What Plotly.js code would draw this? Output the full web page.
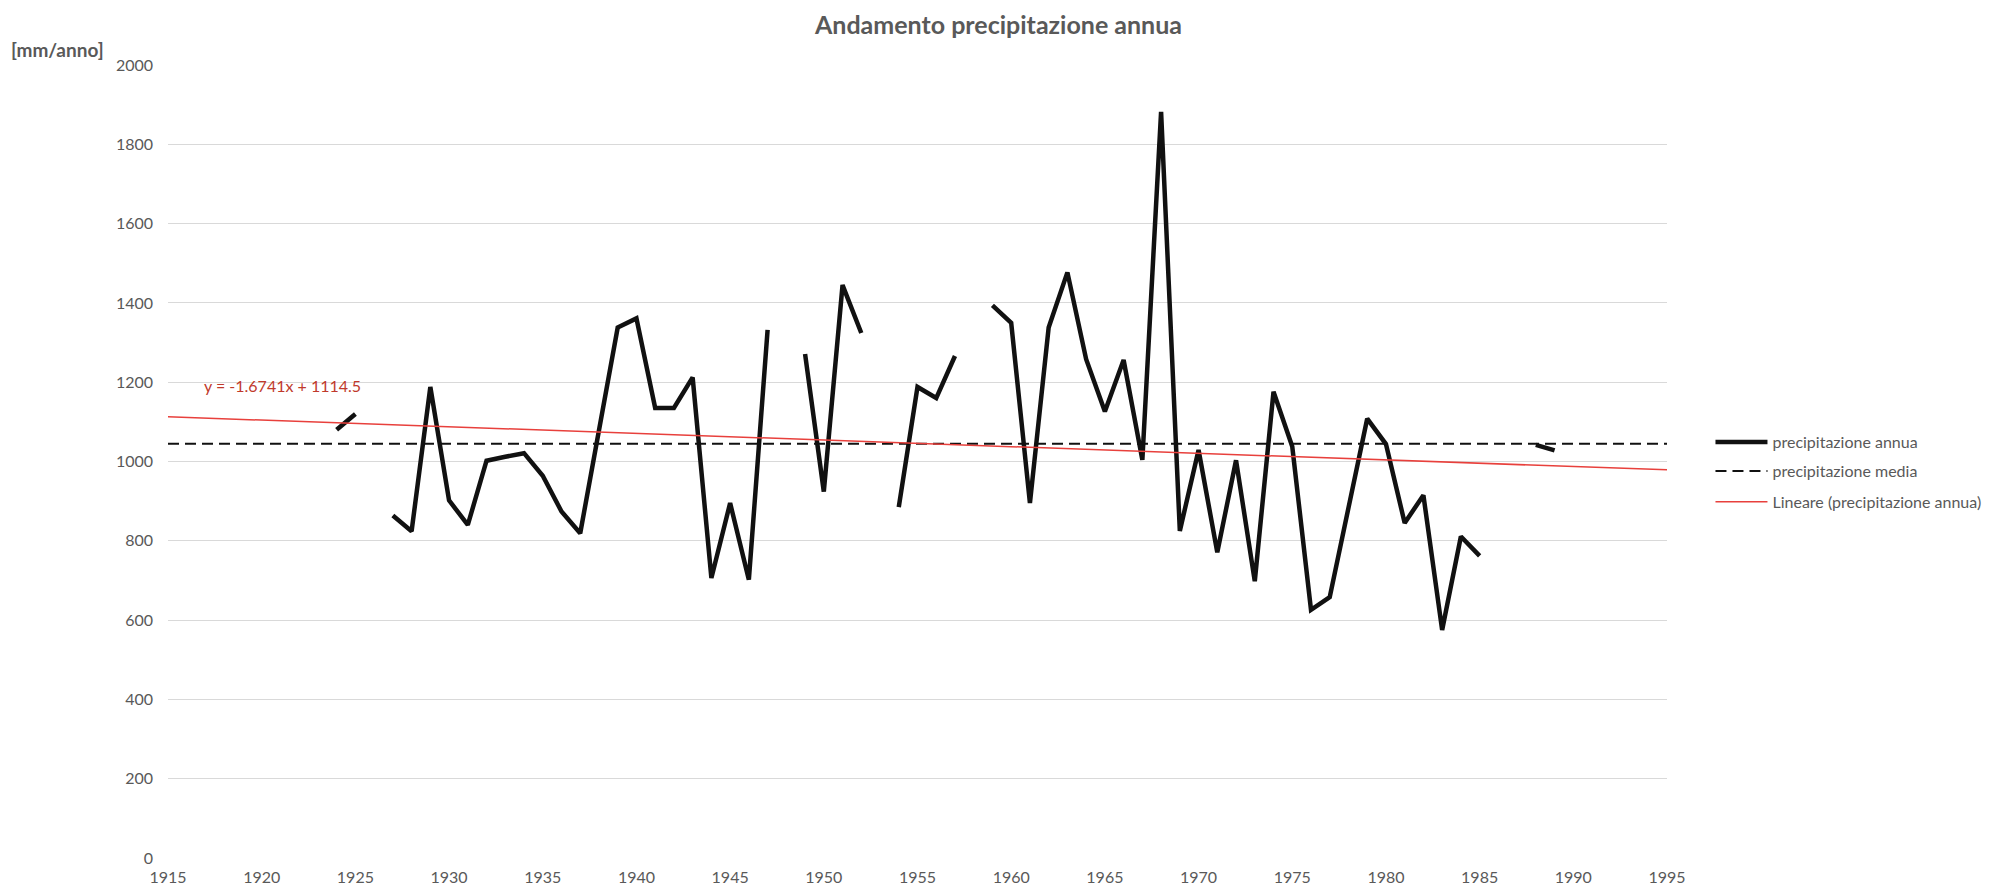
<!DOCTYPE html>
<html>
<head>
<meta charset="utf-8">
<script src="https://cdn.plot.ly/plotly-3.0.1.min.js"></script>
<style>
  html, body { margin: 0; padding: 0; background: #ffffff; }
  #chart { width: 1997px; height: 894px; }
</style>
</head>
<body>
<div id="chart"></div>
<script>
// Years and annual precipitation [mm/anno]; null = missing year (gap in line)
const years = [1924, 1925, 1926, 1927, 1928, 1929, 1930, 1931, 1932, 1933, 1934, 1935, 1936, 1937, 1938, 1939,
  1940, 1941, 1942, 1943, 1944, 1945, 1946, 1947, 1948, 1949, 1950, 1951, 1952, 1953, 1954, 1955, 1956, 1957,
  1958, 1959, 1960, 1961, 1962, 1963, 1964, 1965, 1966, 1967, 1968, 1969, 1970, 1971, 1972, 1973, 1974, 1975,
  1976, 1977, 1978, 1979, 1980, 1981, 1982, 1983, 1984, 1985, 1986, 1987, 1988, 1989];
const precipitazioneAnnua = [1080, 1120, null, 864, 824, 1188, 902, 840, 1002, 1012, 1021, 964, 874, 819, 1075, 1338,
  1361, 1135, 1135, 1212, 706, 895, 702, 1332, null, 1271, 924, 1445, 1324, null, 885, 1188, 1160, 1266,
  null, 1394, 1350, 895, 1338, 1477, 1258, 1126, 1256, 1004, 1882, 825, 1029, 771, 1003, 698, 1176, 1038,
  626, 658, 885, 1108, 1044, 845, 915, 575, 811, 762, null, null, 1042, 1028];

// Mean line (precipitazione media)
const mediaX = [1915, 1995];
const mediaY = [1045, 1045];

// Linear trend line (y = -1.6741x + 1114.5), endpoints read at axis limits
const trendX = [1915, 1995];
const trendY = [1112.8, 978.9];
const trendLabel = 'y = -1.6741x + 1114.5';

const xTicks = [1915, 1920, 1925, 1930, 1935, 1940, 1945, 1950, 1955, 1960, 1965, 1970, 1975, 1980, 1985, 1990, 1995];
const yTicks = [0, 200, 400, 600, 800, 1000, 1200, 1400, 1600, 1800, 2000];

const FONT = 'Lato, "Open Sans", "Liberation Sans", sans-serif';
const GREY = '#595959';

const traces = [
  {
    x: years, y: precipitazioneAnnua, type: 'scatter', mode: 'lines',
    name: 'precipitazione annua', connectgaps: false, legend: 'legend', showlegend: true,
    line: { color: '#111111', width: 4.5 }
  },
  {
    x: mediaX, y: mediaY, type: 'scatter', mode: 'lines',
    name: 'precipitazione media', legend: 'legend2', showlegend: true,
    line: { color: '#111111', width: 2, dash: '11px,6px' }
  },
  {
    x: trendX, y: trendY, type: 'scatter', mode: 'lines',
    name: 'Lineare (precipitazione annua)', legend: 'legend3', showlegend: true,
    line: { color: '#e8403c', width: 1.5 }
  }
];

function legendAt(yPos) {
  return {
    x: 1.029, xanchor: 'left', y: yPos, yanchor: 'middle',
    font: { family: FONT, size: 16, color: GREY },
    bgcolor: 'rgba(0,0,0,0)', itemwidth: 52, visible: true
  };
}

const layout = {
  width: 1997, height: 894,
  showlegend: true,
  paper_bgcolor: '#ffffff', plot_bgcolor: '#ffffff',
  margin: { l: 168, r: 330, t: 65, b: 36, pad: 0, autoexpand: false },
  font: { family: FONT, color: GREY, size: 15 },
  title: {
    text: '<b>Andamento precipitazione annua</b>',
    font: { family: FONT, size: 25, color: GREY },
    x: 0.5, xref: 'container', xanchor: 'center',
    y: 0.972, yref: 'container', yanchor: 'middle'
  },
  xaxis: {
    range: [1915, 1995], tickvals: xTicks, ticktext: xTicks.map(String),
    showgrid: false, zeroline: false, showline: false, ticks: '',
    tickfont: { family: FONT, size: 16, color: GREY }, ticklabelstandoff: 8
  },
  yaxis: {
    range: [0, 2000], tickvals: yTicks, ticktext: yTicks.map(String),
    showgrid: true, gridcolor: '#d9d9d9', gridwidth: 1,
    zeroline: false, showline: false, ticks: '',
    tickfont: { family: FONT, size: 16, color: GREY }, ticklabelstandoff: 14
  },
  legend: legendAt(0.5246),
  legend2: legendAt(0.488),
  legend3: legendAt(0.449),
  annotations: [
    {
      text: '<b>[mm/anno]</b>', xref: 'paper', yref: 'paper',
      x: -0.106, y: 1.02, xanchor: 'left', yanchor: 'middle', showarrow: false,
      font: { family: FONT, size: 19, color: GREY }
    },
    {
      text: trendLabel, xref: 'x', yref: 'y',
      x: 1921.1, y: 1192, xanchor: 'center', yanchor: 'middle', showarrow: false,
      font: { family: FONT, size: 16, color: '#c0392b' }
    }
  ]
};

Plotly.newPlot('chart', traces, layout, { displayModeBar: false, staticPlot: true });
</script>
</body>
</html>
